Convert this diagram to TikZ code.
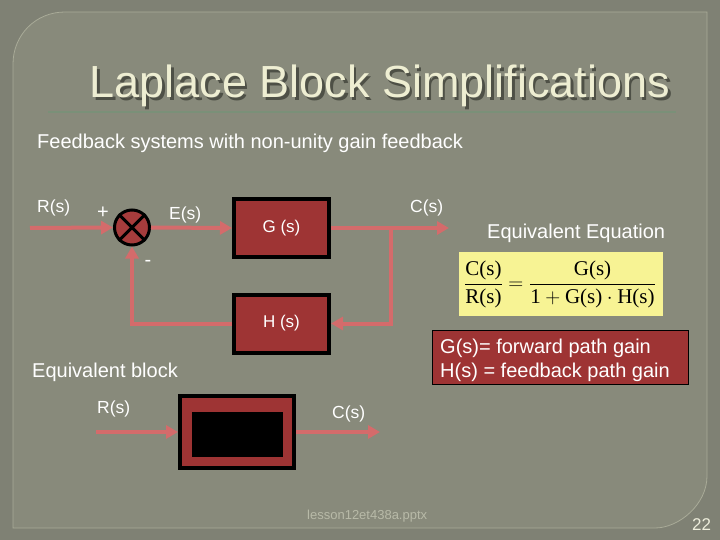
\documentclass[tikz,border=0pt]{standalone}
\usepackage{fontspec}
\setmainfont{Liberation Sans}
\newfontfamily\eqserif{Liberation Serif}
\usetikzlibrary{arrows.meta}
\definecolor{bgout}{HTML}{7F8174}
\definecolor{panel}{HTML}{888A7B}
\definecolor{panelline}{HTML}{A9AB98}
\definecolor{titlecol}{HTML}{EEEED2}
\definecolor{titleshadow}{HTML}{4E5046}
\definecolor{rulecol}{HTML}{7A9078}
\definecolor{arrcol}{HTML}{D46B6B}
\definecolor{blkred}{HTML}{9E3434}
\definecolor{sumred}{HTML}{A63C3C}
\definecolor{eqyellow}{HTML}{F7F394}
\definecolor{footcol}{HTML}{B8BAA8}
\definecolor{pagecol}{HTML}{EEEEDC}
\tikzset{
  blk/.style={draw=black, line width=4pt, fill=blkred, text=white, inner sep=0pt,
    minimum width=95pt, minimum height=58pt, font=\fontsize{17}{20}\selectfont},
  sumnode/.style={circle, draw=black, line width=3pt, fill=sumred, minimum size=35pt, inner sep=0pt},
  wire/.style={draw=arrcol, line width=4pt},
  arr/.style={wire, -{Triangle[length=12pt,width=13pt]}},
  lbl/.style={text=white, inner sep=0pt, anchor=base west, font=\fontsize{17.5}{21}\selectfont},
  biglbl/.style={text=white, inner sep=0pt, anchor=base west, font=\fontsize{20}{24}\selectfont},
}
\newcommand{\titletext}{Laplace Block Simplifications}
\begin{document}
\begin{tikzpicture}[x=1pt,y=-1pt]
\useasboundingbox (0,0) rectangle (720,540);
\fill[bgout] (0,0) rectangle (720,540);
\path[fill=panel, draw=panelline, line width=0.8pt]
  (13,528) -- (13,64) .. controls (13,35.3) and (35.3,12) .. (65,12) -- (707,12)
  -- (707,476) .. controls (707,504.7) and (678.7,528) .. (655,528) -- cycle;
% title (with shadow in the same node)
\node[anchor=base, inner sep=0pt, font=\fontsize{45}{54}\selectfont] (title) at (380,98)
  {\rlap{\kern2.5pt\raisebox{-2.5pt}{\color{titleshadow}\titletext}}\textcolor{titlecol}{\titletext}};
\draw[rulecol, line width=2.5pt] (48,112) -- (676,112);
\node[biglbl] (sub) at (37,149) {Feedback systems with non-unity gain feedback};
% feedback diagram
\node[sumnode] (sum) at (132,227.5) {};
\draw[black, line width=3pt] (sum.north west) -- (sum.south east) (sum.north east) -- (sum.south west);
\node[blk] (G) at (281.5,228) {G (s)};
\node[blk] (H) at (281.5,323.5) {H (s)};
\coordinate (Rin) at (30,228);
\coordinate (Cout) at (449,228);
\coordinate (tk) at (391,228);
\draw[arr] (Rin) -- (sum.west);
\draw[arr] (sum.east) -- (G.west);
\draw[arr] (G.east) -- (Cout);
\draw[arr] (tk) |- (H.east);
\draw[arr] (H.west) -| (sum.south);
\node[lbl] (Rlbl) at (37,213) {R(s)};
\node[lbl, anchor=center, font=\fontsize{20}{24}\selectfont] (plus) at (103,213) {+};
\node[lbl, anchor=center, font=\fontsize{20}{24}\selectfont] (minus) at (148,263) {-};
\node[lbl] (Elbl) at (169,219) {E(s)};
\node[lbl] (Clbl) at (410,213) {C(s)};
% equation
\node[biglbl] (eqtitle) at (487,239) {Equivalent Equation};
\node[fill=eqyellow, minimum width=204pt, minimum height=64pt, inner sep=0pt] (ybox) at (561,284) {};
\node[inner sep=0pt, font=\fontsize{21}{25}\selectfont] (eq) at (560,284.5)
  {$\displaystyle\frac{\mbox{\eqserif C(s)}}{\mbox{\eqserif R(s)}}=\frac{\mbox{\eqserif G(s)}}{\mbox{\eqserif 1}+\mbox{\eqserif G(s)}\cdot\mbox{\eqserif H(s)}}$};
% definitions box
\node[draw=black, line width=1pt, fill=blkred, minimum width=256pt, minimum height=54pt, inner sep=0pt] (defbox) at (560.5,357.5) {};
\node[biglbl] (def1) at (440,353) {G(s)= forward path gain};
\node[biglbl] (def2) at (440,377) {H(s) = feedback path gain};
% equivalent block
\node[biglbl] (eqblock) at (32,377) {Equivalent block};
\node[blk, minimum width=114pt, minimum height=72pt] (EB) at (237,432) {};
\node[fill=black, minimum width=91pt, minimum height=45pt, inner sep=0pt] (EBin) at (237.5,434.5) {};
\coordinate (R2in) at (96,432);
\coordinate (C2out) at (380,432);
\draw[arr] (R2in) -- (EB.west);
\draw[arr] (EB.east) -- (C2out);
\node[lbl] (R2lbl) at (97,413) {R(s)};
\node[lbl] (C2lbl) at (332,418) {C(s)};
% footer
\node[inner sep=0pt, anchor=base west, text=footcol, font=\fontsize{13}{15}\selectfont] (foot) at (307,519) {lesson12et438a.pptx};
\node[inner sep=0pt, anchor=base west, text=pagecol, font=\fontsize{17}{20}\selectfont] (page) at (692,530) {22};
\end{tikzpicture}
\end{document}
